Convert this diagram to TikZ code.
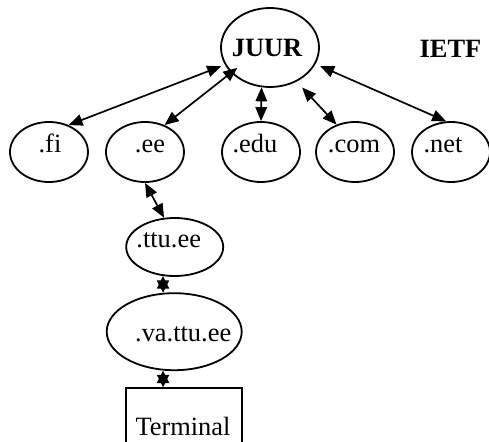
\documentclass[tikz,border=0pt]{standalone}
\usepackage{fontspec}
\setmainfont{Liberation Serif}
\usetikzlibrary{shapes.geometric, arrows.meta}
\tikzset{dnsnode/.style={draw, ellipse, line width=1.8pt, inner sep=0pt, minimum width=78pt, minimum height=60pt, text height=10pt, text depth=10pt},
         termbox/.style={draw, line width=1.8pt, inner sep=0pt, minimum width=116pt, minimum height=80pt, text height=18pt, text depth=4pt},
         link/.style={<->, line width=1.7pt},
         shortlink/.style={{Triangle[length=12.5pt,width=12pt]}-{Triangle[length=12.5pt,width=12pt]}, line width=1.7pt},
         txt/.style={font=\fontsize{26.4}{31}\selectfont},
         boldtxt/.style={font=\fontsize{26.4}{31}\selectfont\bfseries},
        }
\newcommand{\nudge}[2]{\makebox[0pt]{\kern#1\kern#1#2}}

\begin{document}
\begin{tikzpicture}[x=1pt, y=-1pt, every node/.style={txt}, >={Triangle[length=14pt,width=11.5pt]}]
        \useasboundingbox (0,0) rectangle (489,441);
        \clip (0,0) rectangle (489,441);

        \node[dnsnode, boldtxt, minimum width=98pt, minimum height=79pt, text height=18pt, text depth=0pt](juur)at(270,47.5){\nudge{-3pt}{JUUR}};
        \node[boldtxt, anchor=base](ietf)at(450.5,58){IETF};

        \node[dnsnode](fi)at(49,152){\nudge{1pt}{.fi}};
        \node[dnsnode](ee)at(145,152){\nudge{5pt}{.ee}};
        \node[dnsnode](edu)at(261,152){\nudge{-6pt}{.edu}};
        \node[dnsnode](com)at(355,152){\nudge{-1pt}{.com}};
        \node[dnsnode](net)at(451,152){\nudge{-8pt}{.net}};

        \node[dnsnode, minimum width=97pt, minimum height=58pt](ttu)at(174.7,247){\nudge{-6pt}{.ttu.ee}};
        \node[dnsnode, minimum width=135pt, minimum height=77pt, text height=20pt, text depth=0pt](va)at(174.2,331.7){\nudge{9pt}{.va.ttu.ee}};
        \node[termbox, anchor=north](term)at(184,387.3){\nudge{-1pt}{Terminal}};

        \draw[link, shorten <=4pt](juur.201)--(fi.54);
        \draw[link, shorten <=-8pt](juur.213)--(ee.54);
        \draw[link](juur.258)--(edu.north);
        \draw[link, shorten <=8pt](juur.308)--(com.124);
        \draw[link, shorten <=5pt](juur.340)--(net.99);

        \draw[link](ee.south)--(ttu.110);
        \draw[shortlink](ttu.248)--(va.106);
        \draw[shortlink](va.254)--(va.254 |- term.north);
    \end{tikzpicture}
\end{document}
